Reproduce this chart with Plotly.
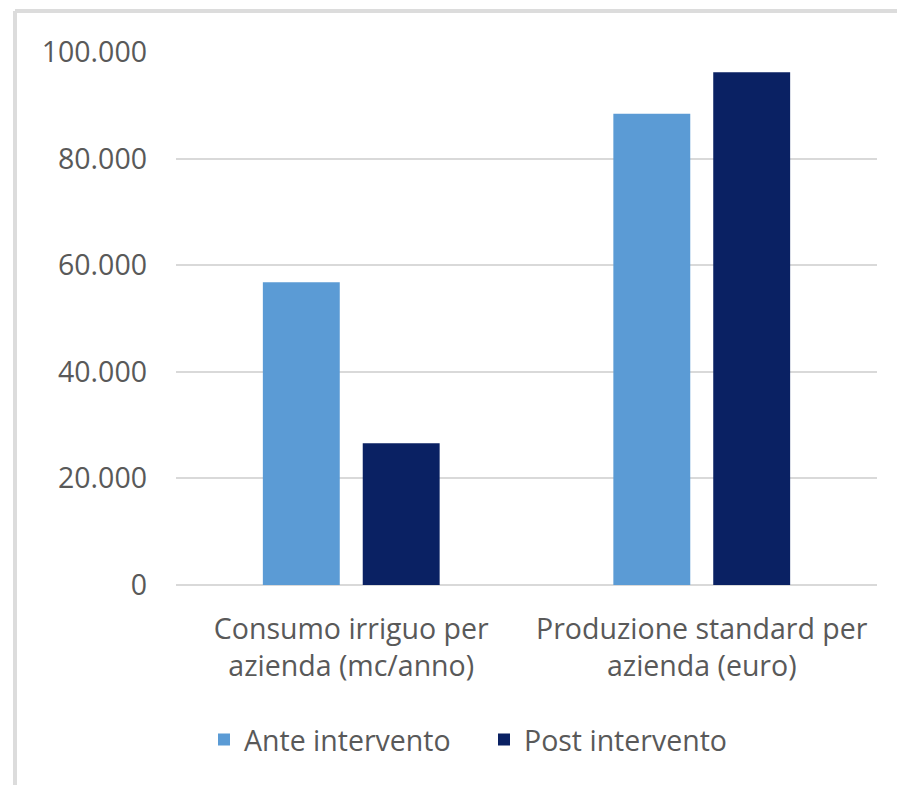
import plotly.graph_objects as go

# Data
categories = ["Consumo irriguo per<br>azienda (mc/anno)",
              "Produzione standard per<br>azienda (euro)"]
ante_values = [56800, 88400]
post_values = [26600, 96200]
series_names = ["Ante intervento", "Post intervento"]
y_ticks = [0, 20000, 40000, 60000, 80000, 100000]

# Page geometry (pixels)
W, H = 897, 785
M_L, M_R, M_T, M_B = 176, 20, 52, 200
PW = W - M_L - M_R
PH = H - M_T - M_B


def px_x(px):
    return (px - M_L) / PW


def px_y(py):
    return (H - M_B - py) / PH


FONT = "Open Sans"
FS = 28.5
TEXT_COLOR = "#595959"
GRID = "#d9d9d9"

fig = go.Figure()
fig.add_trace(go.Bar(x=categories, y=ante_values, name=series_names[0],
                     marker=dict(color="#5b9bd5", line=dict(width=0))))
fig.add_trace(go.Bar(x=categories, y=post_values, name=series_names[1],
                     marker=dict(color="#0a2163", line=dict(width=0))))

fig.update_layout(
    width=W, height=H,
    autosize=False,
    margin=dict(l=M_L, r=M_R, t=M_T, b=M_B, pad=0),
    paper_bgcolor="white",
    plot_bgcolor="white",
    separators=",.",
    barmode="group",
    bargap=0.43,
    bargroupgap=0.23,
    font=dict(family=FONT, size=FS, color=TEXT_COLOR),
    showlegend=True,
    legend=dict(orientation="h", x=px_x(484), xanchor="center",
                y=px_y(740), yanchor="middle",
                font=dict(family=FONT, size=FS, color=TEXT_COLOR),
                itemsizing="constant", itemwidth=30,
                entrywidth=235, entrywidthmode="pixels",
                bgcolor="rgba(0,0,0,0)"),
    xaxis=dict(showgrid=False, showline=False, zeroline=False,
               ticks="", tickfont=dict(family=FONT, size=FS, color=TEXT_COLOR),
               ticklabelstandoff=24, fixedrange=True),
    yaxis=dict(range=[0, 100000], tickvals=y_ticks, tickformat=",d",
               showgrid=True, gridcolor=GRID, gridwidth=2,
               zeroline=True, zerolinecolor=GRID, zerolinewidth=2,
               showline=False, ticks="",
               tickfont=dict(family=FONT, size=FS, color=TEXT_COLOR),
               ticklabelstandoff=28, fixedrange=True),
    shapes=[
        # chart frame
        dict(type="line", xref="paper", yref="paper",
             x0=px_x(15), x1=px_x(15), y0=px_y(11), y1=px_y(H + 5),
             line=dict(color="#dcdcdc", width=4)),
        dict(type="line", xref="paper", yref="paper",
             x0=px_x(15), x1=px_x(W + 5), y0=px_y(11), y1=px_y(11),
             line=dict(color="#dcdcdc", width=4)),
    ],
)

fig.write_html("out.html")
